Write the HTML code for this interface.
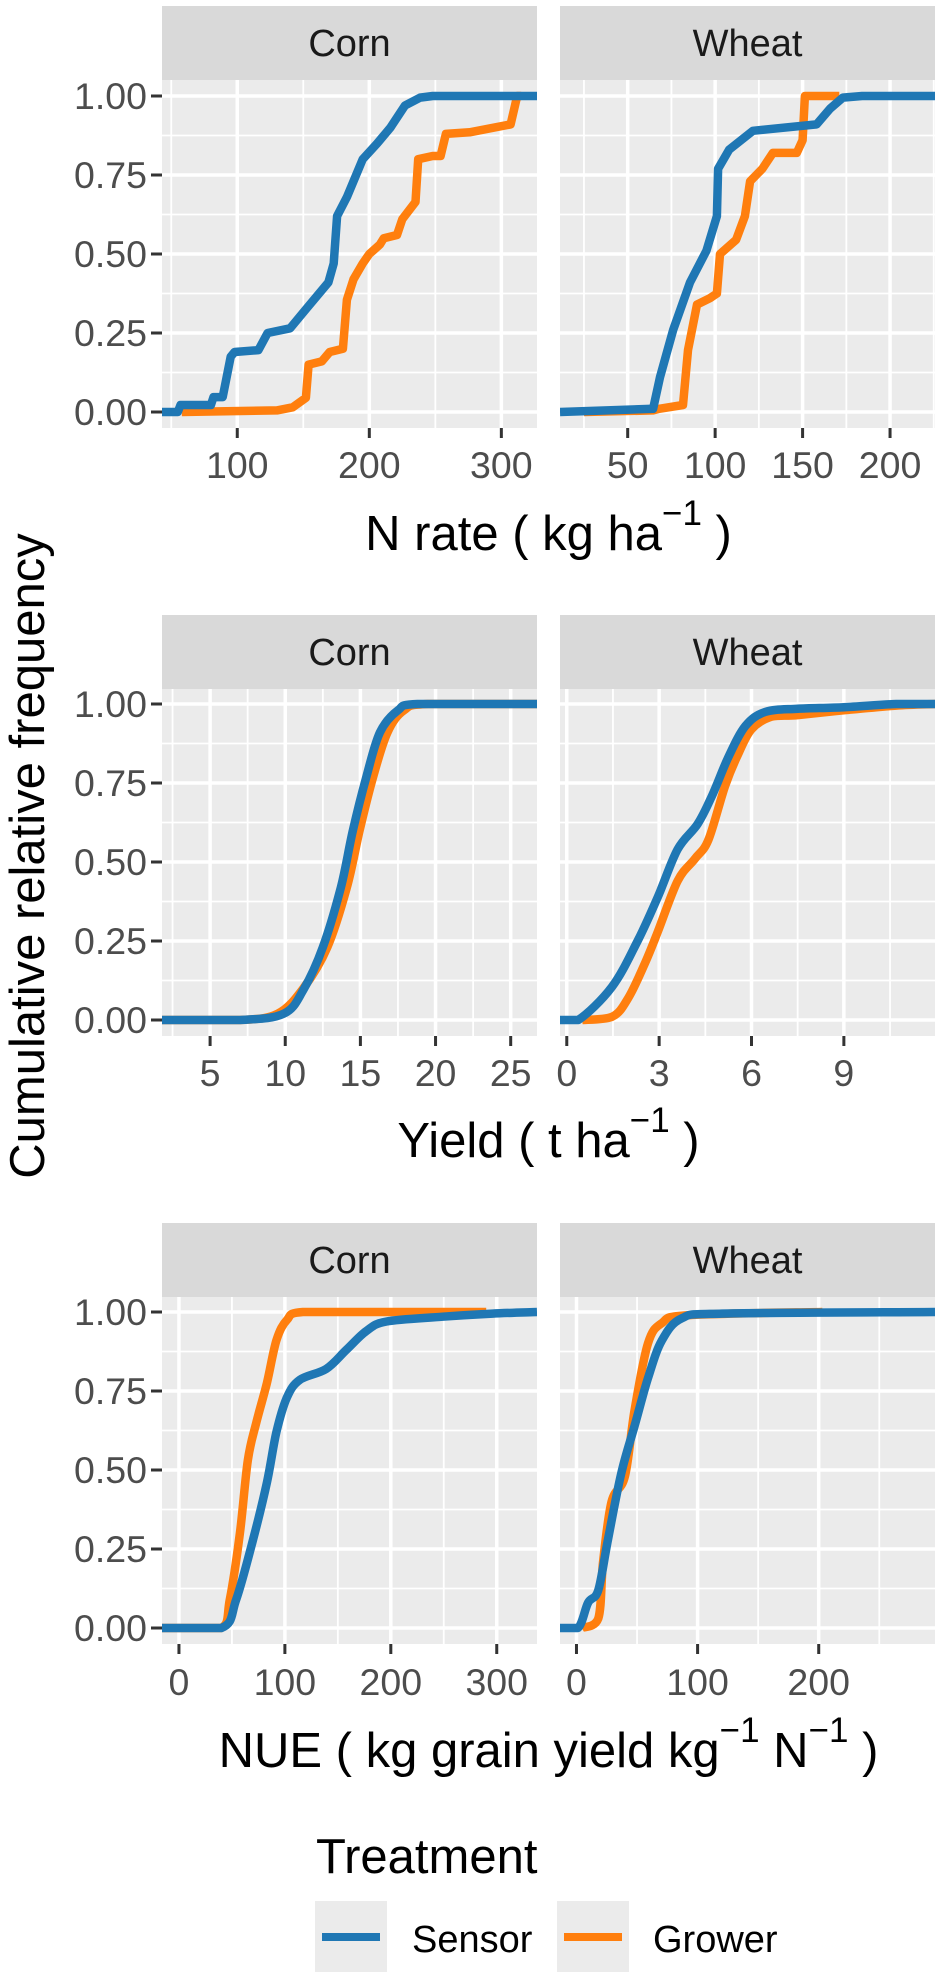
<!DOCTYPE html>
<html>
<head>
<meta charset="utf-8">
<style>
html,body{margin:0;padding:0;background:#fff;}
svg{display:block;font-family:"Liberation Sans",Arial,sans-serif;}
</style>
</head>
<body>
<svg id="chart" width="941" height="1979" viewBox="0 0 941 1979" xmlns="http://www.w3.org/2000/svg">
  <rect width="941" height="1979" fill="#ffffff"/>
  <g id="panels"></g>
  <text transform="translate(44,856) rotate(-90)" text-anchor="middle" font-size="49" fill="#000">Cumulative relative frequency</text>
  <text x="548.5" y="550" text-anchor="middle" font-size="49" fill="#000">N rate ( kg ha<tspan font-size="35" dy="-25">−1</tspan><tspan dy="25"> )</tspan></text>
  <text x="548.5" y="1157" text-anchor="middle" font-size="49" fill="#000">Yield ( t ha<tspan font-size="35" dy="-25">−1</tspan><tspan dy="25"> )</tspan></text>
  <text x="548.5" y="1767" text-anchor="middle" font-size="49" fill="#000">NUE ( kg grain yield kg<tspan font-size="35" dy="-25">−1</tspan><tspan dy="25"> N</tspan><tspan font-size="35" dy="-25">−1</tspan><tspan dy="25"> )</tspan></text>
  <g>
    <text x="316" y="1873" font-size="49" fill="#000">Treatment</text>
    <g>
      <rect x="315" y="1901" width="72" height="71" fill="#ebebeb"/>
      <line x1="322" y1="1937" x2="380" y2="1937" stroke="#1f77b4" stroke-width="8"/>
      <text x="412" y="1952" font-size="38" fill="#000">Sensor</text>
    </g>
    <g>
      <rect x="557" y="1901" width="72" height="71" fill="#ebebeb"/>
      <line x1="564" y1="1937" x2="622" y2="1937" stroke="#ff7f0e" stroke-width="8"/>
      <text x="653" y="1952" font-size="38" fill="#000">Grower</text>
    </g>
  </g>
</svg>
<script>
// ---- data ----
const facets = ["Corn", "Wheat"];
const yTicks = [0, 0.25, 0.5, 0.75, 1];
const yTickLabels = ["0.00", "0.25", "0.50", "0.75", "1.00"];

const nrateCornTicks = [100, 200, 300];
const nrateWheatTicks = [50, 100, 150, 200];
const yieldCornTicks = [5, 10, 15, 20, 25];
const yieldWheatTicks = [0, 3, 6, 9];
const nueCornTicks = [0, 100, 200, 300];
const nueWheatTicks = [0, 100, 200];

const nrateCornSensorX = [43,55,57,80,82,89,95,98,116,123,140,153,169,173,175.6,183,195,206,216,227,238.5,248,327];
const nrateCornSensorY = [0,0,0.022,0.022,0.047,0.047,0.175,0.19,0.196,0.25,0.265,0.33,0.41,0.47,0.62,0.68,0.80,0.85,0.90,0.97,0.995,1,1];
const nrateCornGrowerX = [58,130,142,152,154,164,170,180,183,188,195,200,208,211,221,225,235,237,248,254,258,276,307,312,315];
const nrateCornGrowerY = [0,0.005,0.015,0.045,0.15,0.16,0.19,0.2,0.355,0.42,0.47,0.50,0.53,0.55,0.56,0.61,0.665,0.80,0.81,0.81,0.88,0.885,0.91,1,1];
const nrateWheatSensorX = [11.3,64.5,68.5,76,85.6,95,101,101.7,108,121.6,158,165.7,173,184,225.7];
const nrateWheatSensorY = [0,0.01,0.11,0.26,0.41,0.51,0.62,0.77,0.83,0.89,0.91,0.96,0.995,1,1];
const nrateWheatGrowerX = [25,64.5,68,81.6,84.5,89.6,97,101,102.8,112,117,120,127,133,146.7,150,151.3,171];
const nrateWheatGrowerY = [0,0.005,0.01,0.022,0.196,0.34,0.36,0.375,0.50,0.545,0.62,0.73,0.77,0.82,0.82,0.86,1,1];

const yieldCornSensorX = [1.8,7,9.9,11.2,12.5,13.7,14.5,15.4,16.3,17.5,18.8,26.75];
const yieldCornSensorY = [0,0,0.02,0.095,0.23,0.42,0.60,0.77,0.91,0.98,1,1];
const yieldCornGrowerX = [1.8,7,9.5,11.2,12.8,14.1,14.95,15.85,16.8,17.9,19.5,26.75];
const yieldCornGrowerY = [0,0,0.02,0.10,0.23,0.42,0.60,0.77,0.91,0.98,1,1];
const yieldWheatSensorX = [-0.22,0.37,1.47,2.3,2.96,3.6,4.25,4.72,5.24,5.8,6.45,7.5,9.0,10.7,11.96];
const yieldWheatSensorY = [0,0,0.105,0.25,0.39,0.54,0.62,0.71,0.83,0.93,0.975,0.985,0.99,1,1];
const yieldWheatGrowerX = [0.5,1.47,2.0,2.54,2.96,3.6,4.16,4.6,5.14,5.56,6.0,6.66,7.5,9.0,10.7,11.96];
const yieldWheatGrowerY = [0,0.01,0.07,0.18,0.28,0.44,0.51,0.57,0.74,0.84,0.92,0.96,0.965,0.98,0.995,1];

const nueCornSensorX = [-16,40,54,70,83,92,102,114,139,158,177,196,249,296,338];
const nueCornSensorY = [0,0,0.09,0.28,0.46,0.62,0.73,0.785,0.82,0.88,0.94,0.97,0.985,0.995,1];
const nueCornGrowerX = [-16,40,48,57.5,65,73,83,92,102,117,290];
const nueCornGrowerY = [0,0,0.09,0.30,0.53,0.65,0.775,0.91,0.975,1,1];
const nueWheatSensorX = [-13.6,1.3,9.6,18,26,37,48,59,70.5,87,120,296];
const nueWheatSensorY = [0,0,0.08,0.12,0.28,0.49,0.64,0.79,0.91,0.98,0.995,1];
const nueWheatGrowerX = [4.3,18,22,29,40,48,59,70.5,92,203];
const nueWheatGrowerY = [0,0.03,0.21,0.40,0.48,0.69,0.90,0.965,0.99,1];

// ---- layout ----
const NS = "http://www.w3.org/2000/svg";
const cols = [[162,537],[560,935]];
const rows = [
  {strip:6, top:80, bottom:428, y0:412, y1:96, lab:478},
  {strip:615, top:689, bottom:1036, y0:1020, y1:704, lab:1086},
  {strip:1223, top:1297, bottom:1644, y0:1628, y1:1312, lab:1695}
];
const domains = [
  [[43,327],[11.3,225.7]],
  [[1.8,26.75],[-0.22,11.96]],
  [[-16,338],[-13.6,296]]
];
const tickSets = [[nrateCornTicks,nrateWheatTicks],[yieldCornTicks,yieldWheatTicks],[nueCornTicks,nueWheatTicks]];
const series = [
  [[[nrateCornSensorX,nrateCornSensorY],[nrateCornGrowerX,nrateCornGrowerY]],[[nrateWheatSensorX,nrateWheatSensorY],[nrateWheatGrowerX,nrateWheatGrowerY]]],
  [[[yieldCornSensorX,yieldCornSensorY],[yieldCornGrowerX,yieldCornGrowerY]],[[yieldWheatSensorX,yieldWheatSensorY],[yieldWheatGrowerX,yieldWheatGrowerY]]],
  [[[nueCornSensorX,nueCornSensorY],[nueCornGrowerX,nueCornGrowerY]],[[nueWheatSensorX,nueWheatSensorY],[nueWheatGrowerX,nueWheatGrowerY]]]
];
const rowNames = ["n-rate","yield","nue"];
const smooth = [false,true,true];
const colors = ["#1f77b4","#ff7f0e"];
const seriesNames = ["sensor","grower"];

function el(tag, attrs, parent){
  const e = document.createElementNS(NS, tag);
  for (const k in attrs) e.setAttribute(k, attrs[k]);
  parent.appendChild(e);
  return e;
}
function clamp(v, a, b){ const lo=Math.min(a,b), hi=Math.max(a,b); return Math.max(lo, Math.min(hi, v)); }
function pathD(pts, sm){
  if (!sm) return pts.map((p,i)=>(i?"L":"M")+p[0].toFixed(1)+","+p[1].toFixed(1)).join("");
  let d = "M"+pts[0][0].toFixed(1)+","+pts[0][1].toFixed(1);
  for (let i=0;i<pts.length-1;i++){
    const p0=pts[Math.max(i-1,0)], p1=pts[i], p2=pts[i+1], p3=pts[Math.min(i+2,pts.length-1)];
    const c1=[clamp(p1[0]+(p2[0]-p0[0])/6,p1[0],p2[0]), clamp(p1[1]+(p2[1]-p0[1])/6,p1[1],p2[1])];
    const c2=[clamp(p2[0]-(p3[0]-p1[0])/6,p1[0],p2[0]), clamp(p2[1]-(p3[1]-p1[1])/6,p1[1],p2[1])];
    d += "C"+c1[0].toFixed(1)+","+c1[1].toFixed(1)+" "+c2[0].toFixed(1)+","+c2[1].toFixed(1)+" "+p2[0].toFixed(1)+","+p2[1].toFixed(1);
  }
  return d;
}

const root = document.getElementById("panels");
rows.forEach((r, ri) => {
  const yScale = v => r.y0 + (r.y1 - r.y0) * v;
  yTicks.forEach((t, ti) => {
    const yl = el("text", {x:147, y:(yScale(t)+13).toFixed(1), "text-anchor":"end", "font-size":"37.5", fill:"#4d4d4d"}, root);
    
    
    yl.textContent = yTickLabels[ti];
    const tk = el("line", {x1:151, x2:162, y1:yScale(t), y2:yScale(t), stroke:"#333", "stroke-width":3}, root);
    
    
  });
  cols.forEach((c, ci) => {
    const [d0, d1] = domains[ri][ci];
    const xScale = v => c[0] + (v - d0) / (d1 - d0) * (c[1] - c[0]);
    const g = el("g", {}, root);
    
    
    const st = el("rect", {x:c[0], y:r.strip, width:c[1]-c[0], height:r.top-r.strip, fill:"#d9d9d9"}, g);
    
    
    const stt = el("text", {x:(c[0]+c[1])/2, y:(r.strip+r.top)/2+13, "text-anchor":"middle", "font-size":"38", fill:"#1a1a1a"}, g);
    
    
    stt.textContent = facets[ci];
    el("rect", {x:c[0], y:r.top, width:c[1]-c[0], height:r.bottom-r.top, fill:"#ebebeb"}, g);
    const cid = "clip"+ri+ci;
    const cp = el("clipPath", {id:cid}, g);
    el("rect", {x:c[0], y:r.top, width:c[1]-c[0], height:r.bottom-r.top}, cp);
    const gg = el("g", {"clip-path":"url(#"+cid+")"}, g);
    [0.125,0.375,0.625,0.875].forEach(t => el("line", {x1:c[0], x2:c[1], y1:yScale(t), y2:yScale(t), stroke:"#fff", "stroke-width":1.8}, gg));
    const ticks = tickSets[ri][ci];
    const step = ticks[1] - ticks[0];
    for (let v = ticks[0] - step*1.5; v <= d1 + step; v += step) {
      if (v < d0 || v > d1) continue;
      el("line", {x1:xScale(v), x2:xScale(v), y1:r.top, y2:r.bottom, stroke:"#fff", "stroke-width":1.8}, gg);
    }
    yTicks.forEach(t => el("line", {x1:c[0], x2:c[1], y1:yScale(t), y2:yScale(t), stroke:"#fff", "stroke-width":3.5}, gg));
    ticks.forEach(t => el("line", {x1:xScale(t), x2:xScale(t), y1:r.top, y2:r.bottom, stroke:"#fff", "stroke-width":3.5}, gg));
    ticks.forEach(t => {
      const tk = el("line", {x1:xScale(t), x2:xScale(t), y1:r.bottom, y2:r.bottom+10, stroke:"#333", "stroke-width":3}, g);
      
      
      const tl = el("text", {x:xScale(t), y:r.lab, "text-anchor":"middle", "font-size":"37.5", fill:"#4d4d4d"}, g);
      
      
      tl.textContent = String(t);
    });
    [1,0].forEach(si => {
      const [xs, ys] = series[ri][ci][si];
      const pts = xs.map((x, i) => [xScale(x), yScale(ys[i])]);
      const p = el("path", {d:pathD(pts, smooth[ri]), fill:"none", stroke:colors[si], "stroke-width":8.5, "stroke-linejoin":"round", "stroke-linecap":"butt"}, gg);
      
      
    });
  });
});
</script>
</body>
</html>
